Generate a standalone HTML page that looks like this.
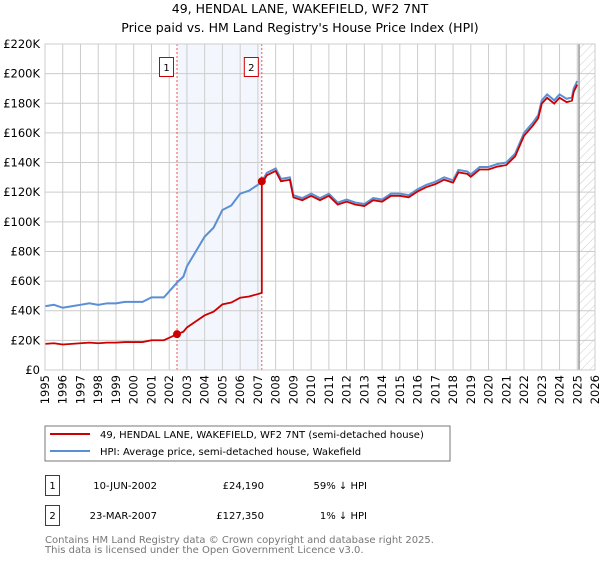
<!DOCTYPE html>
<html><head><meta charset="utf-8"><style>
body{margin:0;background:#fff;font-family:"DejaVu Sans","Liberation Sans",sans-serif;}
svg text{font-family:"DejaVu Sans","Liberation Sans",sans-serif;}
</style></head><body>
<svg id="c" width="600" height="560" xmlns="http://www.w3.org/2000/svg">
<defs><pattern id="hatch" width="6" height="6" patternUnits="userSpaceOnUse" patternTransform="rotate(45)"><line x1="0" y1="0" x2="0" y2="6" stroke="#ccc" stroke-width="1"/></pattern></defs>
<text x="300" y="13" text-anchor="middle" font-size="12.5">49, HENDAL LANE, WAKEFIELD, WF2 7NT</text>
<text x="300" y="32" text-anchor="middle" font-size="12.5">Price paid vs. HM Land Registry's House Price Index (HPI)</text>
<g id="grid"></g><g id="marks"></g><g id="axes"></g>
<rect x="45" y="426" width="405" height="35" fill="#fff" stroke="#777"/>
<line x1="50" y1="434" x2="90" y2="434" stroke="#cc0000" stroke-width="2"/>
<text x="100" y="438" font-size="10">49, HENDAL LANE, WAKEFIELD, WF2 7NT (semi-detached house)</text>
<line x1="50" y1="451" x2="90" y2="451" stroke="#5b8fd4" stroke-width="2"/>
<text x="100" y="455" font-size="10">HPI: Average price, semi-detached house, Wakefield</text>
<g font-size="10">
<rect x="45.5" y="475.5" width="14" height="20" fill="none" stroke="#cc0000"/>
<text x="52.5" y="489" text-anchor="middle">1</text>
<text x="157" y="489" text-anchor="end">10-JUN-2002</text>
<text x="264" y="489" text-anchor="end">£24,190</text>
<text x="367" y="489" text-anchor="end">59% ↓ HPI</text>
<rect x="45.5" y="505.5" width="14" height="20" fill="none" stroke="#cc0000"/>
<text x="52.5" y="519" text-anchor="middle">2</text>
<text x="157" y="519" text-anchor="end">23-MAR-2007</text>
<text x="264" y="519" text-anchor="end">£127,350</text>
<text x="367" y="519" text-anchor="end">1% ↓ HPI</text>
</g>
<text x="45" y="543" font-size="10" fill="#777">Contains HM Land Registry data © Crown copyright and database right 2025.</text>
<text x="45" y="553" font-size="10" fill="#777">This data is licensed under the Open Government Licence v3.0.</text>
</svg>
<script>
const hpiYears=[1995,1995.5,1996,1996.5,1997,1997.5,1998,1998.5,1999,1999.5,2000,2000.5,2001,2001.7,2002,2002.44,2002.8,2003,2003.5,2004,2004.5,2005,2005.5,2006,2006.5,2007,2007.22,2007.5,2008,2008.3,2008.8,2009,2009.5,2010,2010.5,2011,2011.5,2012,2012.5,2013,2013.5,2014,2014.5,2015,2015.5,2016,2016.5,2017,2017.5,2018,2018.3,2018.8,2019,2019.5,2020,2020.5,2021,2021.5,2022,2022.5,2022.8,2023,2023.3,2023.7,2024,2024.4,2024.7,2024.8,2025];
const hpiValues=[43,44,42,43,44,45,44,45,45,46,46,46,49,49,53,59,63,70,80,90,96,108,111,119,121,125,127,133,136,129,130,118,116,119,116,119,113,115,113,112,116,115,119,119,118,122,125,127,130,128,135,134,132,137,137,139,140,146,160,167,172,182,186,182,186,183,184,190,195];
const saleYears=[2002.44,2007.22];
const salePrices=[24.19,127.35];
const yTicks=[0,20,40,60,80,100,120,140,160,180,200,220];
const xTicks=[1995,1996,1997,1998,1999,2000,2001,2002,2003,2004,2005,2006,2007,2008,2009,2010,2011,2012,2013,2014,2015,2016,2017,2018,2019,2020,2021,2022,2023,2024,2025,2026];
const NS="http://www.w3.org/2000/svg";
const L=45,R=595,T=44,B=370,X0=1995,X1=2026,YMAX=220,dataEnd=2025.1;
const x=v=>L+(v-X0)/(X1-X0)*(R-L), y=v=>B-v/YMAX*(B-T);
function mk(t,a,p){const e=document.createElementNS(NS,t);for(const k in a)e.setAttribute(k,a[k]);p.appendChild(e);return e;}
const grid=document.getElementById('grid'),marks=document.getElementById('marks'),axes=document.getElementById('axes');
const shade=mk('rect',{x:x(saleYears[0]),y:T,width:x(saleYears[1])-x(saleYears[0]),height:B-T,fill:'#eef3fc',opacity:0.7},grid);

const hatch=mk('rect',{x:x(dataEnd),y:T,width:R-x(dataEnd),height:B-T,fill:'url(#hatch)'},grid);

xTicks.forEach(v=>{const g=mk('line',{x1:x(v),x2:x(v),y1:T,y2:B,stroke:'#ccc'},grid);

const tx=x(v)+4,ty=B+5;
const t=mk('text',{x:tx,y:ty,'text-anchor':'end','font-size':11.5,transform:'rotate(-90 '+tx+' '+ty+')'},axes);t.textContent=v;
});
yTicks.forEach(v=>{const g=mk('line',{x1:L,x2:R,y1:y(v),y2:y(v),stroke:'#ccc'},grid);

const t=mk('text',{x:40,y:y(v)+4,'text-anchor':'end','font-size':11.5},axes);t.textContent=v===0?'£0':'£'+v+'K';
});
const endLine=mk('line',{x1:x(dataEnd),x2:x(dataEnd),y1:T,y2:B,stroke:'#999','stroke-width':1.5},grid);

function hpiAt(t){for(let i=1;i<hpiYears.length;i++){if(t<=hpiYears[i]){const f=(t-hpiYears[i-1])/(hpiYears[i]-hpiYears[i-1]);return hpiValues[i-1]+f*(hpiValues[i]-hpiValues[i-1]);}}return hpiValues[hpiValues.length-1];}
const hp=mk('path',{d:hpiYears.map((t,i)=>(i?'L':'M')+x(t)+','+y(hpiValues[i])).join(''),fill:'none',stroke:'#5b8fd4','stroke-width':2},marks);

let d='';let first=true;
const pts=[];hpiYears.forEach((t,i)=>pts.push([t,hpiValues[i]]));
saleYears.forEach(s=>pts.push([s,hpiAt(s)]));pts.sort((a,b)=>a[0]-b[0]);
pts.forEach(([t,h])=>{let k=0;for(let j=0;j<saleYears.length;j++)if(t>=saleYears[j])k=j;
if(t>saleYears[1]-1e-9&&t<saleYears[1]+1e-9){const prev=salePrices[0]*h/hpiAt(saleYears[0]);d+='L'+x(t)+','+y(prev);}
const v=salePrices[k]*h/hpiAt(saleYears[k])*(k===1?0.985:1);d+=(first?'M':'L')+x(t)+','+y(v);first=false;});
const pp=mk('path',{d:d,fill:'none',stroke:'#cc0000','stroke-width':1.8},marks);

saleYears.forEach((s,i)=>{const vl=mk('line',{x1:x(s),x2:x(s),y1:T,y2:B,stroke:'#e55','stroke-dasharray':'2,2'},grid);

const c=mk('circle',{cx:x(s),cy:y(salePrices[i]),r:4,fill:'#cc0000'},marks);

const b=mk('rect',{x:x(s)-17.5,y:57.5,width:14,height:19,fill:'#fff',stroke:'#cc0000'},marks);

const t=mk('text',{x:x(s)-10.5,y:71,'text-anchor':'middle','font-size':10},marks);t.textContent=i+1;
});
const fr=mk('rect',{x:L,y:T,width:R-L,height:B-T,fill:'none',stroke:'#ccc'},axes);

</script>
</body></html>
